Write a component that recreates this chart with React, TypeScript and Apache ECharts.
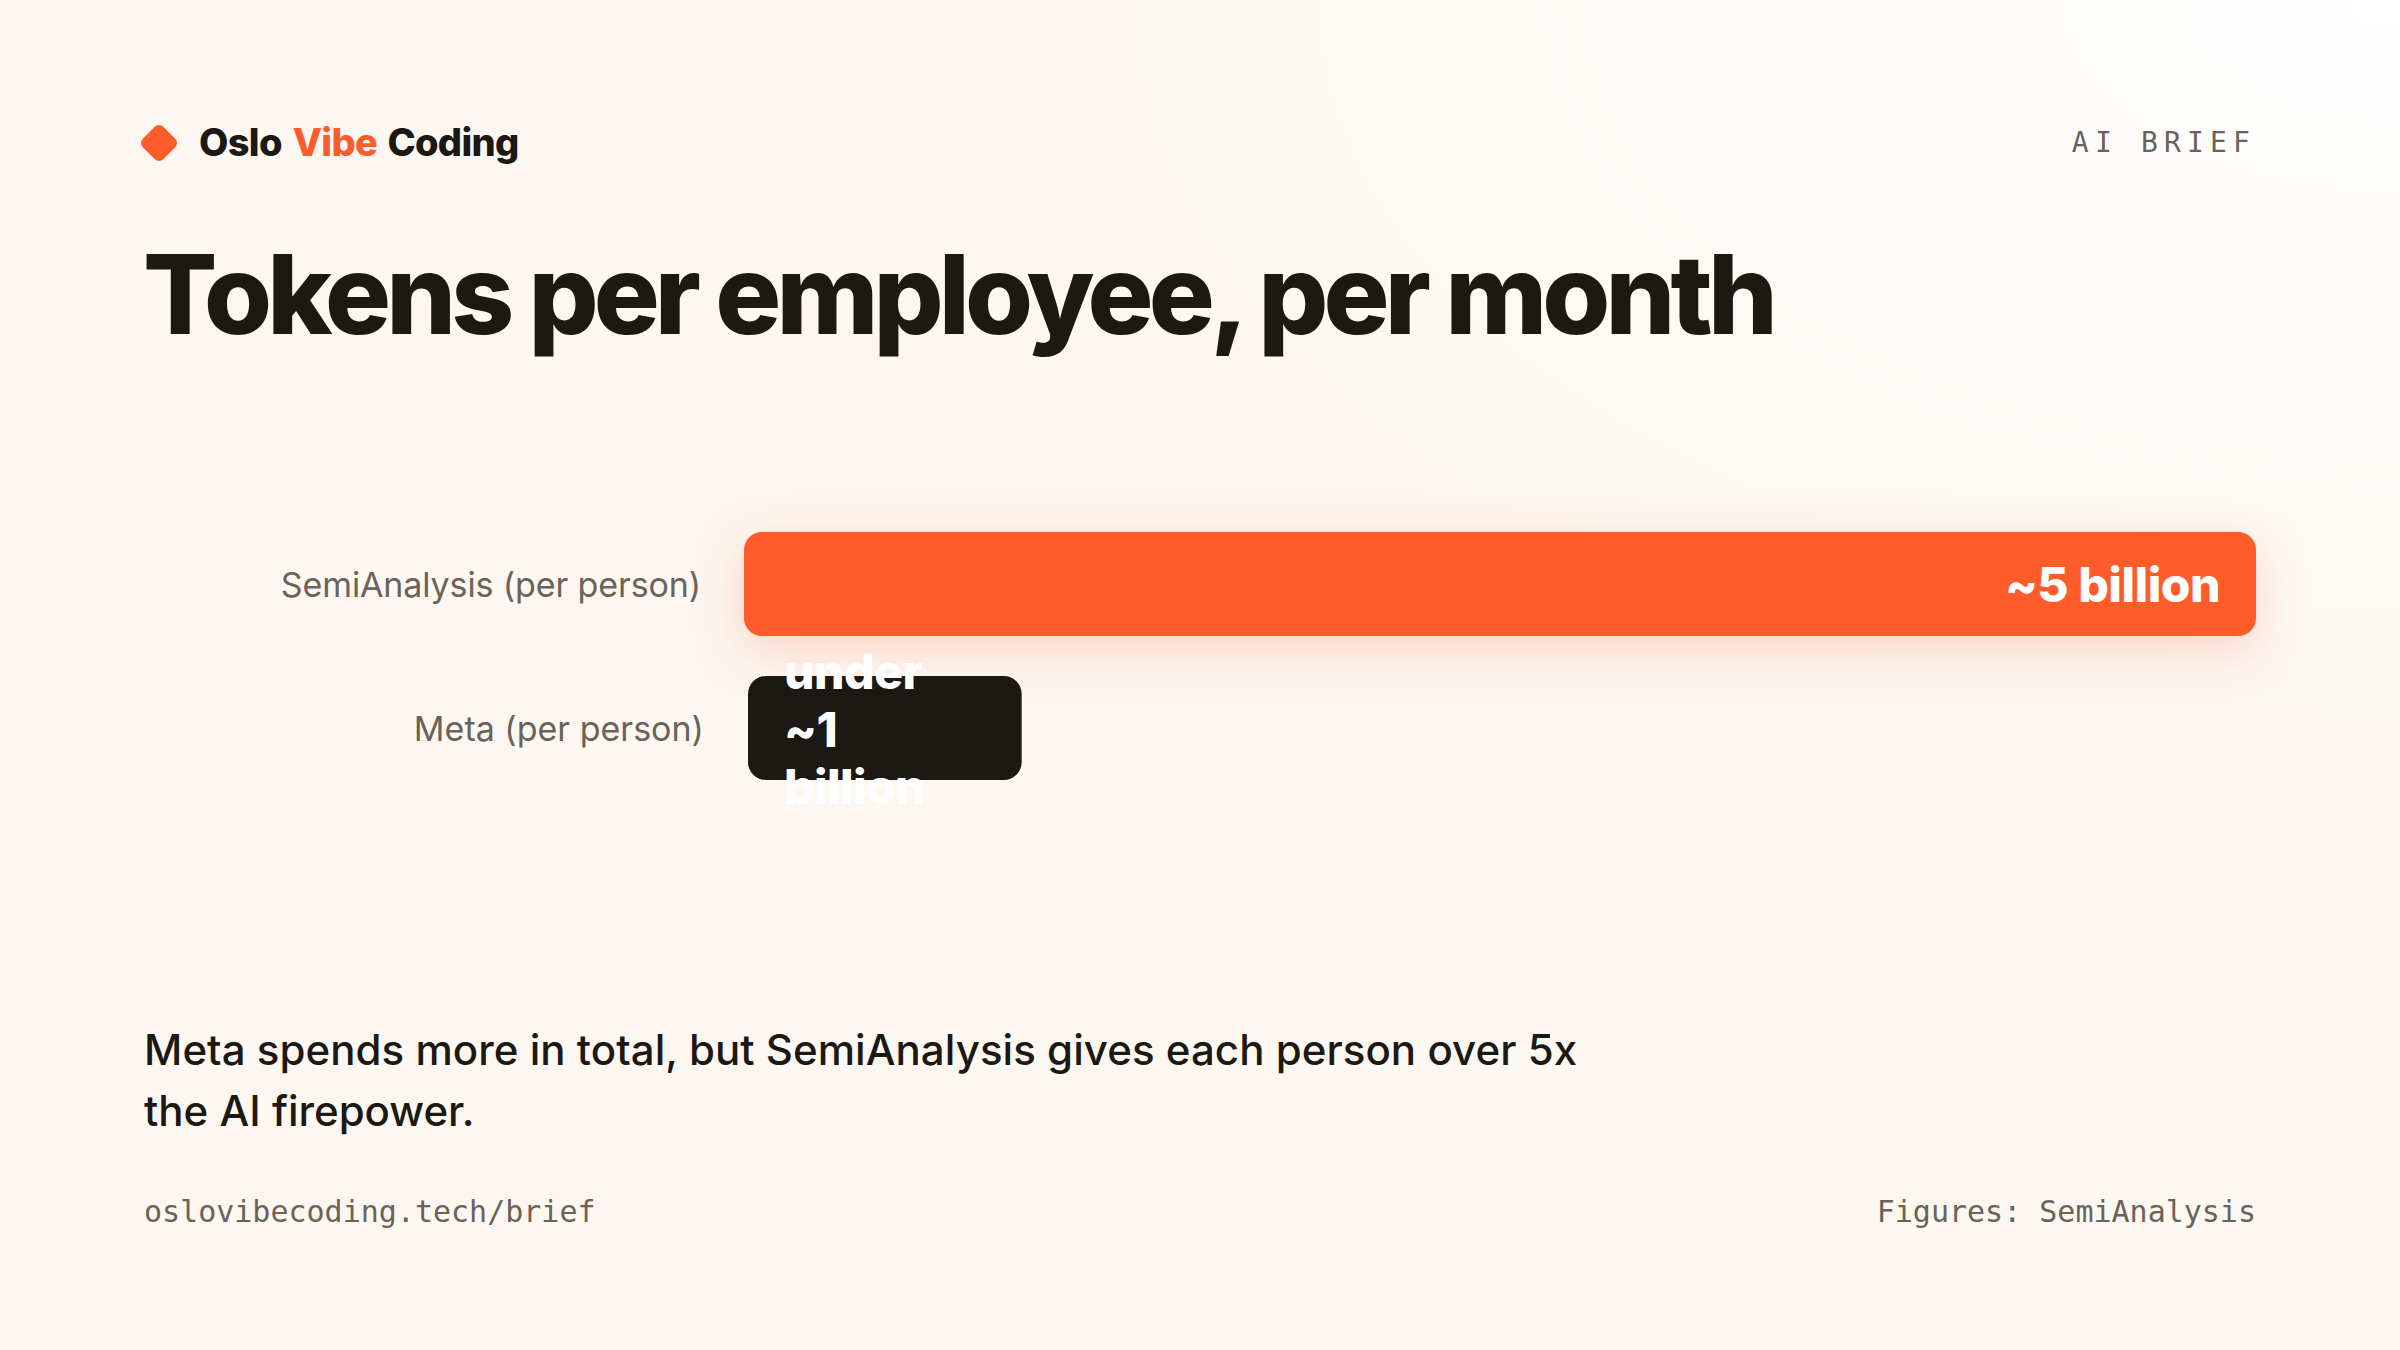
import React, { useEffect, useRef } from "react";
import * as echarts from "echarts";

const brandParts = ["Oslo ", "Vibe", " Coding"];
const tagText = "AI BRIEF";
const titleText = "Tokens per employee, per month";
const categoryA = ["SemiAnalysis (per person)"];
const categoryB = ["Meta (per person)"];
const valuesA = [5];
const valuesB = [0.905];
const labelA = "~5 billion";
const labelB = "under\n~1\nbillion";
const noteLines = [
  "Meta spends more in total, but SemiAnalysis gives each person over 5x",
  "the AI firepower.",
];
const footLeft = "oslovibecoding.tech/brief";
const footRight = "Figures: SemiAnalysis";

const INK = "#1C1814";
const ORANGE = "#FF5C2C";
const MUTED = "#6B6258";
const SANS = "Inter, sans-serif";
const MONO = "'DejaVu Sans Mono', monospace";

const spacing: Record<string, string> = {
  [titleText]: "-4.9px",
  [brandParts[0].trim()]: "-0.68px",
  [brandParts[1]]: "-0.68px",
  [brandParts[2].trim()]: "-0.68px",
  [tagText]: "6.16px",
  [categoryA[0]]: "-0.12px",
  [noteLines[0]]: "0.05px",
  [labelA]: "-0.48px",
  under: "-0.48px",
  "~1": "-0.48px",
  billion: "-0.6px",
};

function barSeries(data: number[], idx: number, color: string, label: any, shadow: any) {
  return {
    type: "bar",
    xAxisIndex: idx,
    yAxisIndex: idx,
    data,
    barWidth: "100%",
    silent: true,
    itemStyle: { color, borderRadius: 18, ...shadow },
    label,
  };
}

function catAxis(data: string[], idx: number, margin: number) {
  return {
    type: "category",
    gridIndex: idx,
    data,
    axisLine: { show: false },
    axisTick: { show: false },
    axisLabel: {
      color: MUTED,
      fontFamily: SANS,
      fontSize: 34,
      fontWeight: 400,
      margin,
      padding: [0, 0, 3, 0],
    },
  };
}

function valAxis(idx: number) {
  return { type: "value", gridIndex: idx, min: 0, max: 5, show: false };
}

const barLabelBase = {
  show: true,
  color: "#FFFFFF",
  fontFamily: SANS,
  fontSize: 48,
  fontWeight: 800,
  distance: 36,
};

export default function App() {
  const ref = useRef<HTMLDivElement>(null);
  useEffect(() => {
    document.body.style.margin = "0";
    const chart = echarts.init(ref.current!, undefined, { renderer: "svg" });
    chart.setOption({
      animation: false,
      grid: [
        { left: 744, top: 532, width: 1512, height: 104 },
        { left: 748, top: 676, width: 1512, height: 104 },
      ],
      xAxis: [valAxis(0), valAxis(1)],
      yAxis: [catAxis(categoryA, 0, 43), catAxis(categoryB, 1, 44)],
      series: [
        barSeries(
          valuesA,
          0,
          ORANGE,
          { ...barLabelBase, position: "insideRight", formatter: () => labelA },
          { shadowBlur: 48, shadowColor: "rgba(255,92,44,0.25)", shadowOffsetY: 14 }
        ),
        barSeries(
          valuesB,
          1,
          INK,
          {
            ...barLabelBase,
            position: "insideLeft",
            align: "left",
            lineHeight: 57.6,
            offset: [0, 1],
            formatter: () => labelB,
          },
          {}
        ),
      ],
      graphic: [
        {
          type: "rect",
          z: -10,
          silent: true,
          shape: { x: 0, y: 0, width: 2400, height: 1350 },
          style: {
            fill: new echarts.graphic.RadialGradient(1, 0, 0.55, [
              { offset: 0, color: "#FFFFFF" },
              { offset: 1, color: "#FCF7F1" },
            ]),
          },
        },
        {
          type: "rect",
          x: 159,
          y: 143,
          rotation: Math.PI / 4,
          shape: { x: -14.5, y: -14.5, width: 29, height: 29, r: 6 },
          style: { fill: ORANGE },
        },
        {
          type: "text",
          x: 199,
          y: 142,
          style: {
            text: `{a|${brandParts[0]}}{b|${brandParts[1]}}{a|${brandParts[2]}}`,
            textVerticalAlign: "middle",
            rich: {
              a: { fill: INK, font: `800 38px ${SANS}` },
              b: { fill: ORANGE, font: `800 38px ${SANS}` },
            },
          },
        },
        {
          type: "text",
          x: 2256,
          y: 142,
          style: {
            text: tagText,
            fill: MUTED,
            font: `400 28px ${MONO}`,
            textAlign: "right",
            textVerticalAlign: "middle",
          },
        },
        {
          type: "text",
          x: 143,
          y: 294,
          style: {
            text: titleText,
            fill: INK,
            font: `800 110px ${SANS}`,
            textVerticalAlign: "middle",
          },
        },
        ...noteLines.map((t, i) => ({
          type: "text",
          x: 144,
          y: 1049 + i * 61.6,
          style: {
            text: t,
            fill: INK,
            font: `500 42px ${SANS}`,
            textVerticalAlign: "middle",
          },
        })),
        {
          type: "text",
          x: 144,
          y: 1211,
          style: {
            text: footLeft,
            fill: MUTED,
            font: `400 30px ${MONO}`,
            textVerticalAlign: "middle",
          },
        },
        {
          type: "text",
          x: 2256,
          y: 1211,
          style: {
            text: footRight,
            fill: MUTED,
            font: `400 30px ${MONO}`,
            textAlign: "right",
            textVerticalAlign: "middle",
          },
        },
      ],
    });
    ref.current!.querySelectorAll("text").forEach((el) => {
      const s = spacing[(el.textContent || "").trim()];
      if (s) el.style.letterSpacing = s;
    });
    return () => chart.dispose();
  }, []);
  return <div ref={ref} style={{ width: 2400, height: 1350 }} />;
}
